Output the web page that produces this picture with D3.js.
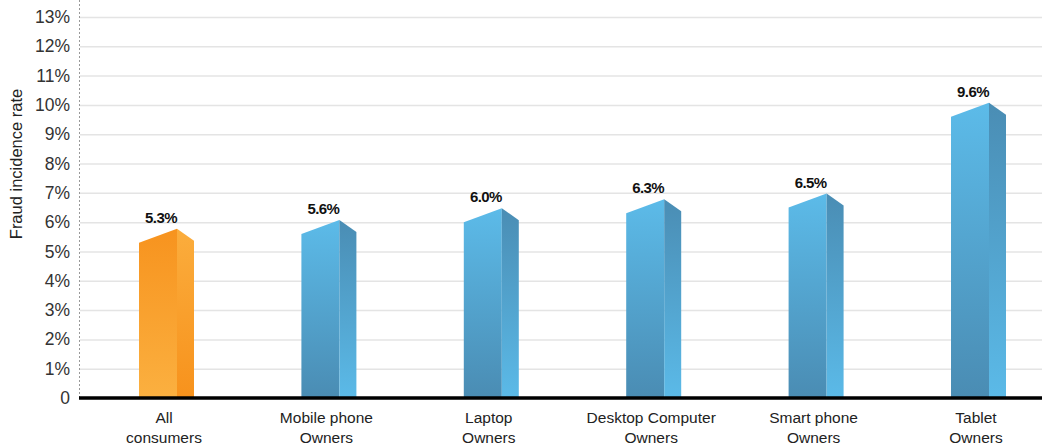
<!DOCTYPE html>
<html>
<head>
<meta charset="utf-8">
<script src="https://cdn.jsdelivr.net/npm/d3@7"></script>
<style>
  html, body { margin: 0; padding: 0; background: #ffffff; }
  svg { display: block; }
  .tick text { font-family: "Liberation Sans", Arial, sans-serif; }
</style>
</head>
<body>
<svg id="chart" width="1042" height="447"></svg>
<script>
// Fraud incidence rate by device ownership
const categories = ["All consumers", "Mobile phone Owners", "Laptop Owners",
                    "Desktop Computer Owners", "Smart phone Owners", "Tablet Owners"];
const values = [5.3, 5.6, 6.0, 6.3, 6.5, 9.6];
const valueLabels = ["5.3%", "5.6%", "6.0%", "6.3%", "6.5%", "9.6%"];
const yTicks = [0, 1, 2, 3, 4, 5, 6, 7, 8, 9, 10, 11, 12, 13];
const yTickLabels = ["0", "1%", "2%", "3%", "4%", "5%", "6%", "7%", "8%", "9%", "10%", "11%", "12%", "13%"];
const yTitle = "Fraud incidence rate";

const svg = d3.select("#chart");
const plotLeft = 80, plotRight = 1042, plotTop = 17, plotBottom = 398;

const y = d3.scaleLinear().domain([0, 13]).range([plotBottom, plotTop]);
const x = d3.scalePoint().domain(categories).range([167, 979]);

// gradients
const defs = svg.append("defs");
function grad(id, top, bottom) {
  const g = defs.append("linearGradient").attr("id", id)
    .attr("x1", 0).attr("y1", 0).attr("x2", 0).attr("y2", 1);
  g.append("stop").attr("offset", "0%").attr("stop-color", top);
  g.append("stop").attr("offset", "100%").attr("stop-color", bottom);
}
grad("orangeFront", "#F7931E", "#FBB040");
grad("orangeSide", "#FBAD3D", "#F7921C");
grad("blueFront", "#5CBBE9", "#4A8CB3");
grad("blueSide", "#4A8DB4", "#5BBAE8");

// gridlines
svg.append("g")
  .attr("transform", `translate(${plotLeft},0)`)
  .call(d3.axisLeft(y).tickValues(yTicks).tickSize(-(plotRight - plotLeft)).tickFormat(""))
  .call(g => g.select(".domain").remove())
  .call(g => g.selectAll("line").attr("stroke", "#e4e4e4").attr("stroke-width", 1.5));

// dotted vertical axis
svg.append("line")
  .attr("x1", 79.5).attr("x2", 79.5).attr("y1", 0).attr("y2", plotBottom)
  .attr("stroke", "#999").attr("stroke-width", 1).attr("stroke-dasharray", "2,2");

// y tick labels
svg.append("g")
  .attr("transform", `translate(70,0)`)
  .call(d3.axisLeft(y).tickValues(yTicks).tickSize(0).tickPadding(0)
    .tickFormat((d, i) => yTickLabels[i]))
  .call(g => g.select(".domain").remove())
  .call(g => g.selectAll("text")
    .attr("font-size", 17.5).attr("fill", "#333").attr("font-weight", 300));

// y title
svg.append("text")
  .attr("transform", "translate(22,164) rotate(-90)")
  .attr("text-anchor", "middle")
  .attr("font-family", "Liberation Sans, Arial, sans-serif")
  .attr("font-size", 16.5)
  .attr("fill", "#222")
  .text(yTitle);

// 3D prism bars
const frontW = 38, sideW = 17, peak = 14;
const bars = svg.append("g").selectAll("g").data(categories).join("g");

bars.append("path")
  .attr("fill", (d, i) => i === 0 ? "url(#orangeFront)" : "url(#blueFront)")
  .attr("d", (d, i) => {
    const l = x(d) - 28, r = l + frontW, t = y(values[i]);
    return `M${l},${plotBottom}L${l},${t}L${r},${t - peak}L${r},${plotBottom}Z`;
  });

bars.append("path")
  .attr("fill", (d, i) => i === 0 ? "url(#orangeSide)" : "url(#blueSide)")
  .attr("d", (d, i) => {
    const l = x(d) - 28 + frontW, r = l + sideW, t = y(values[i]);
    return `M${l},${plotBottom}L${l},${t - peak}L${r},${t - 2}L${r},${plotBottom}Z`;
  });

// value labels
bars.append("text")
  .attr("x", d => x(d) - 6)
  .attr("y", (d, i) => y(values[i]) - peak - 6)
  .attr("text-anchor", "middle")
  .attr("font-family", "Liberation Sans Narrow, Arial Narrow, Liberation Sans, sans-serif")
  .attr("font-weight", "bold")
  .attr("font-size", 15)
  .attr("letter-spacing", -0.6)
  .attr("fill", "#111")
  .text((d, i) => valueLabels[i]);

// baseline
svg.append("line")
  .attr("x1", 79).attr("x2", plotRight).attr("y1", plotBottom).attr("y2", plotBottom)
  .attr("stroke", "#000").attr("stroke-width", 3.5);

// category labels (two lines each)
const catLabels = svg.append("g").selectAll("text").data(categories).join("text")
  .attr("text-anchor", "middle")
  .attr("font-family", "Liberation Sans, Arial, sans-serif")
  .attr("font-size", 15.5)
  .attr("fill", "#222");
catLabels.each(function (d) {
  const k = d.lastIndexOf(" ");
  const lines = [d.slice(0, k), d.slice(k + 1)];
  const t = d3.select(this);
  lines.forEach((line, j) => {
    t.append("tspan").attr("x", x(d) - 3).attr("y", 423 + j * 20).text(line);
  });
});
</script>
</body>
</html>
